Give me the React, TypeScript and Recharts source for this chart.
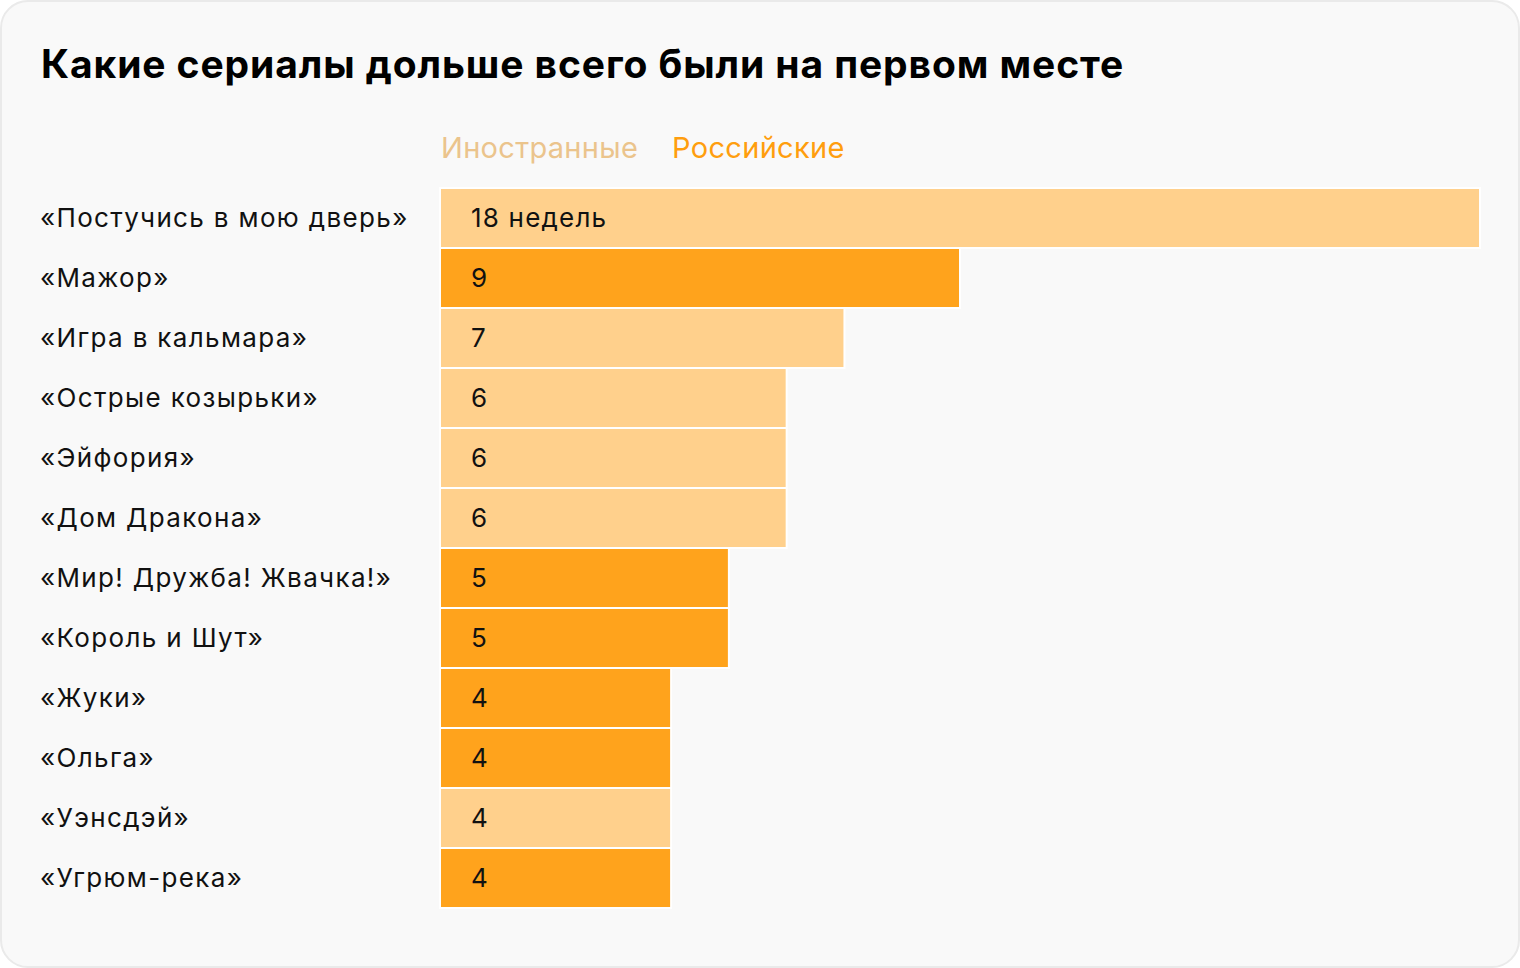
import React from 'react';
import { BarChart, Bar, XAxis, YAxis, Cell, LabelList } from 'recharts';

// названия сериалов, недели на первом месте, происхождение
const titles = [
  '«Постучись в мою дверь»',
  '«Мажор»',
  '«Игра в кальмара»',
  '«Острые козырьки»',
  '«Эйфория»',
  '«Дом Дракона»',
  '«Мир! Дружба! Жвачка!»',
  '«Король и Шут»',
  '«Жуки»',
  '«Ольга»',
  '«Уэнсдэй»',
  '«Угрюм-река»',
];
const weeks = [18, 9, 7, 6, 6, 6, 5, 5, 4, 4, 4, 4];
const origin = ['foreign', 'russian', 'foreign', 'foreign', 'foreign', 'foreign', 'russian', 'russian', 'russian', 'russian', 'foreign', 'russian'];

const FONT = 'Inter, "Noto Sans", sans-serif';
const LIGHT = '#FFD08C';
const DARK = '#FFA31C';

const chartData = titles.map((name, i) => ({ name, weeks: weeks[i], origin: origin[i] }));

const YTick = (props: any) => {
  const { y, payload } = props;
  return (
    <text x={40} y={y} dy={9} textAnchor="start" fontSize={26} fill="#111" fontFamily={FONT} letterSpacing={1.35}>
      {payload.value}
    </text>
  );
};

const ValueLabel = (props: any) => {
  const { x, y, height, value, index } = props;
  return (
    <text x={x + 31} y={y + height / 2} dy={9} fontSize={26} fill="#111" fontFamily={FONT} letterSpacing={1.2}>
      {index === 0 ? `${value} недель` : value}
    </text>
  );
};

export default function App() {
  return (
    <div
      style={{
        position: 'fixed',
        left: 0,
        top: 0,
        width: 1520,
        height: 968,
        boxSizing: 'border-box',
        background: '#F9F9F9',
        border: '2px solid #EAEAEA',
        borderRadius: 28,
        fontFamily: FONT,
        overflow: 'hidden',
      }}
    >
      <div
        style={{
          position: 'absolute',
          left: 39,
          top: 38,
          fontSize: 39,
          fontWeight: 700,
          color: '#000',
          letterSpacing: 0.9,
        }}
      >
        Какие сериалы дольше всего были на первом месте
      </div>
      <div style={{ position: 'absolute', left: 439, top: 128, fontSize: 29, display: 'flex', gap: 34, letterSpacing: 0.3 }}>
        <span style={{ color: '#EBC48C' }}>Иностранные</span>
        <span style={{ color: '#FF9E0E' }}>Российские</span>
      </div>
      <div style={{ position: 'absolute', left: -2, top: -2 }}>
        <BarChart
          width={1520}
          height={968}
          data={chartData}
          layout="vertical"
          margin={{ top: 188, right: 40, bottom: 60, left: 39 }}
          barCategoryGap={0}
        >
          <XAxis type="number" domain={[0, 18]} hide />
          <YAxis
            type="category"
            dataKey="name"
            width={401}
            axisLine={false}
            tickLine={false}
            tick={<YTick />}
            interval={0}
          />
          <Bar dataKey="weeks" isAnimationActive={false} stroke="#FFFFFF" strokeWidth={2}>
            {chartData.map((d, i) => (
              <Cell key={i} fill={d.origin === 'foreign' ? LIGHT : DARK} />
            ))}
            <LabelList dataKey="weeks" content={<ValueLabel />} />
          </Bar>
        </BarChart>
      </div>
    </div>
  );
}
